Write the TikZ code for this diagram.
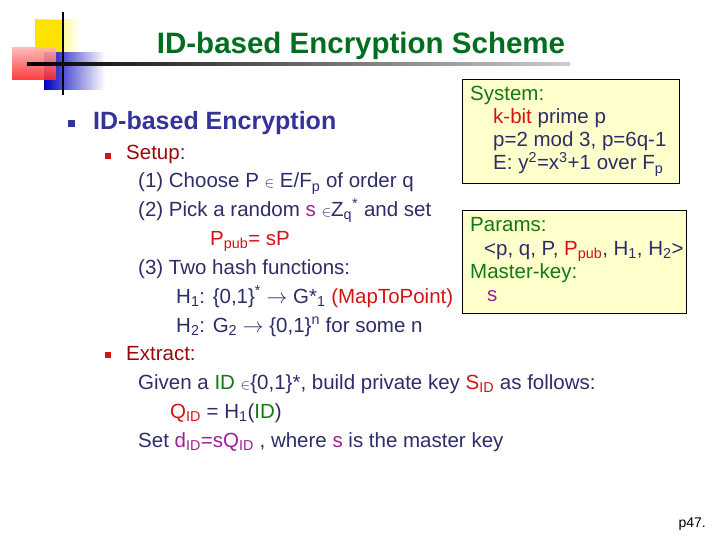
\documentclass[tikz,border=0pt]{standalone}
\usepackage{fontspec}
\setmainfont{Liberation Sans}
\usepackage{amssymb}
\usetikzlibrary{shadings}
\definecolor{ttl}{RGB}{0,110,30}
\definecolor{blu}{RGB}{51,51,153}
\definecolor{dred}{RGB}{150,10,10}
\definecolor{navy}{RGB}{45,45,105}
\definecolor{rd}{RGB}{210,20,20}
\definecolor{mag}{RGB}{160,30,150}
\definecolor{grn}{RGB}{20,120,20}
\definecolor{boxfill}{RGB}{255,255,204}
\tikzset{
 t/.style={anchor=base west,inner sep=0,text=navy,font=\fontsize{20.5}{24}\selectfont},
 bx/.style={draw=black,fill=boxfill,line width=0.6pt},
}
\newcommand{\el}{\ensuremath{\scriptstyle\in}}
\begin{document}
\begin{tikzpicture}[x=1pt,y=-1pt]
\useasboundingbox (0,0) rectangle (720,540);
% decoration
\shade[left color=yellow!90!orange,right color=white] (35,20) rectangle (80,55);
\fill[yellow!85!orange] (35,20) rectangle (62,55);
\shade[left color=blue!75!black,right color=white] (44,53) rectangle (105,90);
\shade[top color=red!30,bottom color=red!85,opacity=0.9] (12,48) rectangle (56,80);
\draw[line width=1.6pt] (63,12) -- (63,95);
\shade[left color=black,right color=gray!40] (27,63) rectangle (570,66);
% title
\node[anchor=base,inner sep=0,text=ttl,font=\bfseries\fontsize{29.5}{32}\selectfont] (title) at (361,54) {ID-based Encryption Scheme};
% bullets
\fill[blu] (68,120) rectangle (75,127);
\node[t,text=blu,font=\bfseries\fontsize{25}{28}\selectfont] (l0) at (93,130) {ID-based Encryption};
\fill[rd] (105,153) rectangle (111,159);
\node[t,text=dred] (l1) at (126,160) {Setup\textcolor{navy}{:}};
\node[t] (l2) at (138,188) {(1) Choose P \el{} E/F\textsubscript{p} of order q};
\node[t] (l3) at (138,216) {(2) Pick a random \textcolor{mag}{s} \el{}Z\textsubscript{q}\textsuperscript{*} and set};
\node[t,text=rd] (l4) at (210,245) {P\textsubscript{pub}= sP};
\node[t] (l5) at (138,274) {(3) Two hash functions:};
\node[t] (l6) at (176,303) {H\textsubscript{1}: \{0,1\}\textsuperscript{*} $\rightarrow$ G*\textsubscript{1} \textcolor{rd}{(MapToPoint)}};
\node[t] (l7) at (176,332) {H\textsubscript{2}: G\textsubscript{2} $\rightarrow$ \{0,1\}\textsuperscript{n} for some n};
\fill[rd] (105,352) rectangle (111,358);
\node[t,text=dred] (l8) at (126,360) {Extract:};
\node[t] (l9) at (138,389) {Given a \textcolor{grn}{ID} \el{}\{0,1\}*, build private key \textcolor{rd}{S\textsubscript{ID}} as follows:};
\node[t] (l10) at (170,418) {\textcolor{rd}{Q\textsubscript{ID}} = H\textsubscript{1}(\textcolor{grn}{ID})};
\node[t] (l11) at (138,447) {Set \textcolor{mag}{d\textsubscript{ID}=sQ\textsubscript{ID}} , where \textcolor{mag}{s} is the master key};
% boxes
\draw[bx] (462,79) rectangle (679,183);
\node[t,text=grn] (s0) at (470,101) {System:};
\node[t] (s1) at (493,124) {\textcolor{rd}{k-bit} prime p};
\node[t] (s2) at (493,147) {p=2 mod 3, p=6q-1};
\node[t] (s3) at (493,170) {E: y\textsuperscript{2}=x\textsuperscript{3}+1 over F\textsubscript{p}};
\draw[bx] (462,210) rectangle (686,313);
\node[t,text=grn] (p0) at (470,232) {Params:};
\node[t] (p1) at (484,255) {<p, q, P, \textcolor{rd}{P\textsubscript{pub}}, H\textsubscript{1}, H\textsubscript{2}>};
\node[t,text=grn] (p2) at (470,278) {Master-key:};
\node[t,text=mag] (p3) at (487,301) {s};
\node[anchor=base east,inner sep=0,font=\fontsize{14}{16}\selectfont] (pg) at (706,527) {p47.};
\end{tikzpicture}
\end{document}
